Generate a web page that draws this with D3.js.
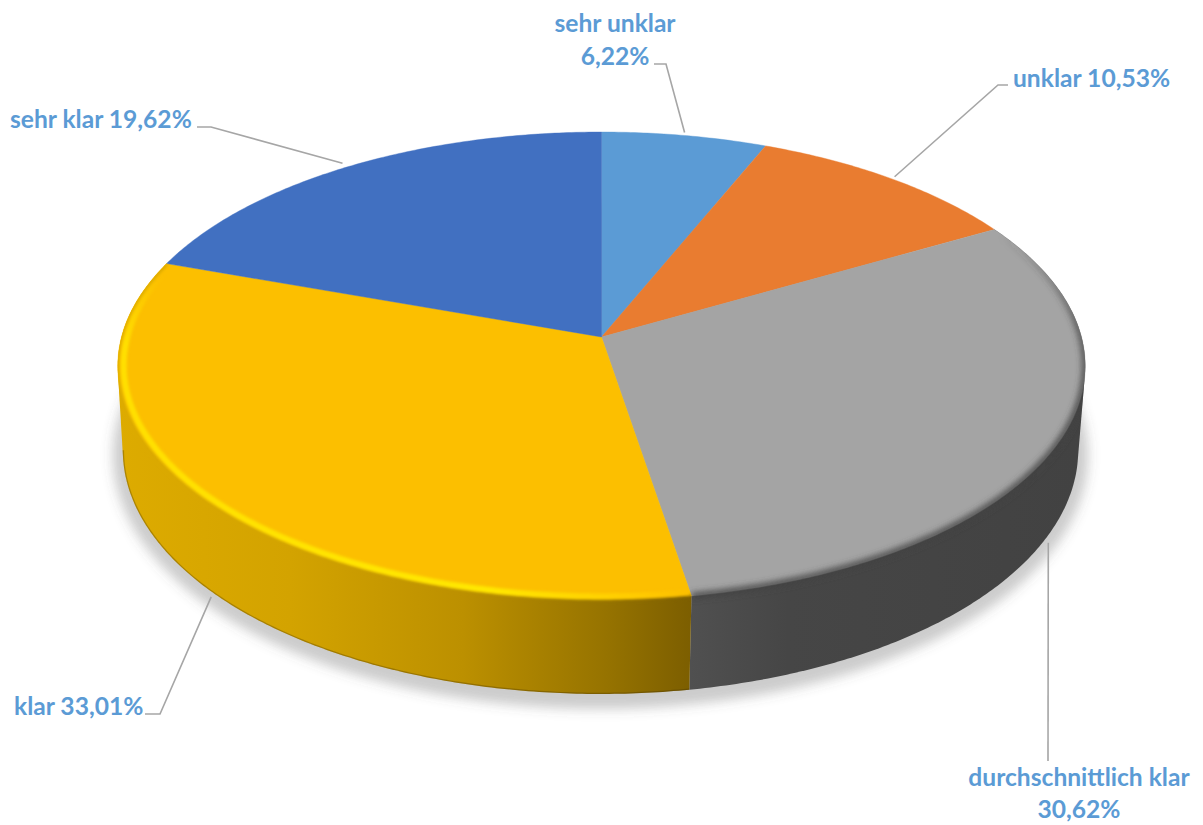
<!DOCTYPE html>
<html lang="de">
<head>
<meta charset="utf-8">
<title>Klarheit</title>
<script src="https://cdn.jsdelivr.net/npm/d3@7/dist/d3.min.js"></script>
<style>
  html, body { margin: 0; padding: 0; background: #fff; }
  svg { display: block; }
  text { font-family: Lato, "Open Sans", sans-serif; font-weight: 700; font-size: 24.6px; fill: #5B9BD5; }
</style>
</head>
<body>
<svg id="chart" width="1203" height="825"></svg>
<script>
// Answer categories and their shares in percent, clockwise from twelve o'clock
const categories = ["sehr unklar", "unklar", "durchschnittlich klar", "klar", "sehr klar"];
const shares = [6.22, 10.53, 30.62, 33.01, 19.62];
const shareLabels = ["6,22%", "10,53%", "30,62%", "33,01%", "19,62%"];
const sliceColors = ["#5B9BD5", "#E97C30", "#A4A4A4", "#FCBF00", "#4170C1"];

// Label placement: text lines, anchor, and the leader's elbow next to the text
const labelLayout = [
  { lines: [[615, 32, 0], [615, 65, 1]], anchor: "middle", ring: "top", elbow: [[654, 64], [666, 64]], nudge: [0, -3] },
  { lines: [[1013, 87, 2]], anchor: "start", ring: "top", elbow: [[1008, 85], [998, 85]], nudge: [3, -2] },
  { lines: [[1079, 786, 0], [1079, 818, 1]], anchor: "middle", ring: "base", elbow: [[1048, 761]], nudge: [-4.4, 14] },
  { lines: [[14, 715, 2]], anchor: "start", ring: "base", elbow: [[145, 714], [160, 714]], nudge: [5, 9] },
  { lines: [[10, 128, 2]], anchor: "start", ring: "top", elbow: [[197, 127], [211, 127]], nudge: [-7, -3] }
];

const svg = d3.select("#chart");
const defs = svg.append("defs");

const tau = 2 * Math.PI;
const persp = 0.124;   // foreshortening of the far side of the disc

// Projection of the unit disc: x/y run over [-1, 1] after the perspective divide
const topX = d3.scaleLinear().domain([-1, 1]).range([601.5 - 480, 601.5 + 480]);
const topY = d3.scaleLinear().domain([-1, 1]).range([337 - 230.4, 337 + 230.4]);
const baseX = d3.scaleLinear().domain([-1, 1]).range([600.5 - 474, 600.5 + 474]);
const baseY = d3.scaleLinear().domain([-1, 1]).range([420 - 240, 420 + 240]);

function project(ring, angle, radius = 1) {
  const ux = Math.sin(angle) * radius;
  const uy = -Math.cos(angle) * radius;
  const w = 1 - persp * uy;
  return ring === "top"
    ? [topX(ux / w), topY(uy / w)]
    : [baseX(ux / w), baseY(uy / w)];
}

function arcPoints(ring, a0, a1, radius = 1) {
  const steps = Math.max(2, Math.ceil(Math.abs(a1 - a0) / 0.01));
  return d3.range(steps + 1).map(i => project(ring, a0 + (a1 - a0) * i / steps, radius));
}

const line = d3.line();
const closed = pts => line(pts) + "Z";

const arcs = d3.pie().sort(null).value(d => d).startAngle(0).endAngle(tau)(shares);
const apex = project("top", 0, 0);

const facePath = d => closed([apex, ...arcPoints("top", d.startAngle, d.endAngle)]);
// The extruded side of a slice is the hull of its upper and lower rim arcs;
// the part that lies behind the top face is painted over afterwards.
const wallPath = d => closed(d3.polygonHull([
  ...arcPoints("top", d.startAngle, d.endAngle),
  ...arcPoints("base", d.startAngle, d.endAngle)
]));

// Filters
const blur = (id, s) => defs.append("filter").attr("id", id)
  .attr("filterUnits", "userSpaceOnUse")
  .attr("x", 0).attr("y", 0).attr("width", 1203).attr("height", 825)
  .append("feGaussianBlur").attr("stdDeviation", s);
blur("shadowBlur", 6);
blur("edgeBlur", 1.8);
blur("softBlur", 3);

// Gradients along the wall and the rim
function gradient(id, x1, x2, y1, y2, stops) {
  const g = defs.append("linearGradient").attr("id", id).attr("gradientUnits", "userSpaceOnUse")
    .attr("x1", x1).attr("x2", x2).attr("y1", y1).attr("y2", y2);
  stops.forEach(([o, c, a]) => g.append("stop").attr("offset", o).attr("stop-color", c).attr("stop-opacity", a === undefined ? 1 : a));
}
gradient("wallYellow", 118, 692, 0, 0, [[0, "#DDAB00"], [0.3, "#D3A300"], [0.6, "#BC9000"], [0.85, "#967300"], [1, "#7C5E00"]]);
gradient("wallGrey", 690, 1080, 0, 0, [[0, "#505050"], [0.25, "#464646"], [1, "#424242"]]);
gradient("rimGrey", 0, 0, 235, 400, [[0, "#3c3c3c", 0], [0.55, "#3c3c3c", 0.8], [1, "#424242", 1]]);
gradient("rimGlow", 117, 690, 0, 0, [[0, "#FFE000"], [0.65, "#FFE800"], [0.9, "#FFCC00"], [1, "#FCBF00"]]);
gradient("rimGlowFade", 0, 0, 275, 345, [[0, "#fff", 0], [1, "#fff", 1]]);
const fadeMask = defs.append("mask").attr("id", "glowMask").attr("maskUnits", "userSpaceOnUse")
  .attr("x", 0).attr("y", 0).attr("width", 1203).attr("height", 825);
fadeMask.append("rect").attr("width", 1203).attr("height", 825).attr("fill", "url(#rimGlowFade)");

// Soft drop shadow under the disc, slightly wider than the base
svg.append("g").attr("filter", "url(#shadowBlur)")
  .append("ellipse")
  .attr("cx", baseX(0))
  .attr("cy", project("base", Math.PI)[1] / 2 + project("base", 0)[1] / 2 + 5)
  .attr("rx", (baseX(1) - baseX(-1)) / 2 / Math.sqrt(1 - persp * persp) + 10)
  .attr("ry", (project("base", Math.PI)[1] - project("base", 0)[1]) / 2 + 10)
  .attr("fill", "#555").attr("fill-opacity", 0.3);

// Visible side walls: grey and yellow slices
const yellow = arcs[3], grey = arcs[2];
svg.append("path").attr("d", wallPath(grey)).attr("fill", "url(#wallGrey)");
svg.append("path").attr("d", wallPath(yellow)).attr("fill", "url(#wallYellow)");

// Darker lower edge of the yellow wall, ending where the base meets the silhouette
defs.append("clipPath").attr("id", "clipYellowWall").append("path").attr("d", wallPath(yellow));
svg.append("path")
  .attr("d", line(arcPoints("base", yellow.startAngle, 1.5 * Math.PI - persp)))
  .attr("fill", "none").attr("stroke", "#3a2c00").attr("stroke-opacity", 0.3).attr("stroke-width", 2.5)
  .attr("clip-path", "url(#clipYellowWall)");

// Top face
svg.append("g").selectAll("path").data(arcs).join("path")
  .attr("d", facePath)
  .attr("fill", (d, i) => sliceColors[i])
  .attr("stroke", (d, i) => sliceColors[i])
  .attr("stroke-width", 0.4);

// Bevel on the rim: yellow catches the light, grey falls into shadow
const clipYellow = defs.append("clipPath").attr("id", "clipYellow");
clipYellow.append("path").attr("d", wallPath(yellow));
clipYellow.append("path").attr("d", facePath(yellow));
const clipGrey = defs.append("clipPath").attr("id", "clipGrey");
clipGrey.append("path").attr("d", wallPath(grey));
clipGrey.append("path").attr("d", facePath(grey));

svg.append("g").attr("clip-path", "url(#clipGrey)")
  .append("path")
  .attr("d", line(arcPoints("top", grey.startAngle, grey.endAngle)))
  .attr("fill", "none").attr("stroke", "url(#rimGrey)").attr("stroke-width", 6)
  .attr("filter", "url(#softBlur)");

const yellowBevel = svg.append("g").attr("clip-path", "url(#clipYellow)");
yellowBevel.append("path")
  .attr("d", line(arcPoints("top", yellow.startAngle, yellow.endAngle)))
  .attr("fill", "none").attr("stroke", "url(#wallYellow)").attr("stroke-width", 4)
  .attr("filter", "url(#edgeBlur)");
yellowBevel.append("g").attr("mask", "url(#glowMask)")
  .append("path")
  .attr("d", line(arcPoints("top", yellow.startAngle, yellow.endAngle, 0.988)))
  .attr("fill", "none").attr("stroke", "url(#rimGlow)").attr("stroke-width", 6)
  .attr("filter", "url(#edgeBlur)");

// Leader lines, starting from each slice's mid-angle on the rim
svg.append("g").selectAll("path").data(arcs).join("path")
  .attr("d", (d, i) => {
    const l = labelLayout[i];
    const mid = (d.startAngle + d.endAngle) / 2;
    const p = project(l.ring, mid);
    return line([[p[0] + l.nudge[0], p[1] + l.nudge[1]], ...l.elbow.slice().reverse()]);
  })
  .attr("fill", "none").attr("stroke", "#A6A6A6").attr("stroke-width", 1.6);

// Data labels
labelLayout.forEach((l, i) => {
  l.lines.forEach(([x, y, kind]) => {
    const str = kind === 0 ? categories[i] : kind === 1 ? shareLabels[i] : categories[i] + " " + shareLabels[i];
    svg.append("text").attr("x", x).attr("y", y).attr("text-anchor", l.anchor).text(str);
  });
});
</script>
</body>
</html>
